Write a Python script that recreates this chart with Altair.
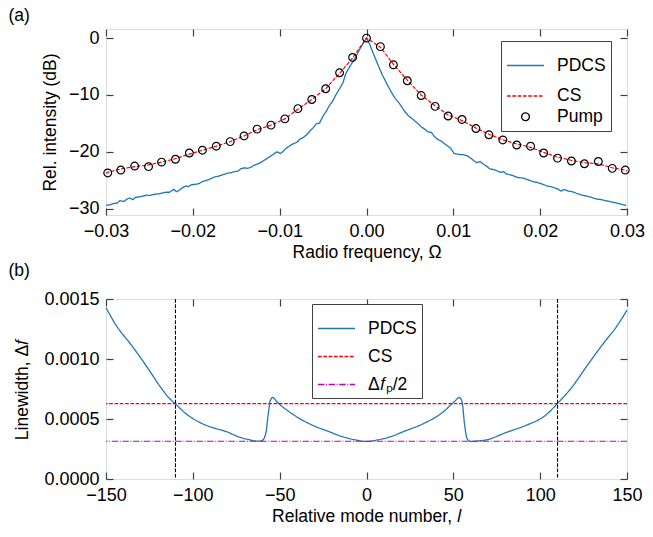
import altair as alt
import pandas as pd

# ---------------- Panel (a) data ----------------
pump_x = [-0.0298, -0.0283, -0.0267, -0.0251, -0.0236, -0.0220, -0.0204, -0.0189, -0.0173, -0.0157,
          -0.0141, -0.0126, -0.0110, -0.0094, -0.0079, -0.0063, -0.0047, -0.0031, -0.0016, 0.0,
          0.0016, 0.0031, 0.0047, 0.0063, 0.0079, 0.0094, 0.0110, 0.0126, 0.0141, 0.0157,
          0.0173, 0.0189, 0.0204, 0.0220, 0.0236, 0.0251, 0.0267, 0.0283, 0.0298]
pump_db = [-23.7, -23.2, -22.5, -22.6, -21.8, -21.3, -20.2, -19.7, -19.0, -18.2,
           -17.2, -16.0, -15.3, -14.2, -12.4, -10.8, -8.9, -6.1, -3.4, 0.0,
           -1.5, -4.7, -7.5, -10.1, -12.0, -13.7, -14.3, -15.9, -17.0, -17.9,
           -18.8, -19.0, -20.2, -21.1, -21.6, -22.1, -21.7, -22.9, -23.2]

cs_x = [-0.0300] + pump_x + [0.0300]
cs_db = [-23.8, -23.6, -23.0, -22.6, -22.3, -21.8, -21.2, -20.4, -19.7, -19.0, -18.2,
         -17.2, -16.1, -15.3, -14.2, -12.5, -10.8, -8.9, -6.2, -3.5, 0.0,
         -1.6, -4.6, -7.4, -10.0, -11.9, -13.5, -14.5, -15.8, -16.9, -17.9,
         -18.6, -19.2, -20.1, -20.9, -21.5, -21.9, -22.1, -22.8, -23.2, -23.4]

pdcs_a_x = [-0.0300, -0.0295, -0.0292, -0.0287, -0.0284, -0.0279, -0.0276, -0.0273, -0.0269, -0.0266,
            -0.0261, -0.0258, -0.0253, -0.0250, -0.0245, -0.0242, -0.0239, -0.0234, -0.0231, -0.0227,
            -0.0224, -0.0222, -0.0219, -0.0216, -0.0213, -0.0208, -0.0205, -0.0202, -0.0197, -0.0193,
            -0.0190, -0.0186, -0.0182, -0.0179, -0.0175, -0.0171, -0.0167, -0.0163, -0.0159, -0.0156,
            -0.0153, -0.0148, -0.0145, -0.0141, -0.0137, -0.0133, -0.0130, -0.0125, -0.0122, -0.0118,
            -0.0114, -0.0110, -0.0107, -0.0103, -0.0099, -0.0096, -0.0092, -0.0086, -0.0080, -0.0077,
            -0.0073, -0.0069, -0.0065, -0.0061, -0.0058, -0.0054, -0.0050, -0.0046, -0.0043, -0.0039,
            -0.0035, -0.0031, -0.0027, -0.0024, -0.0020, -0.0016, -0.0012, -0.0009, -0.0005, 0.0,
            0.0004, 0.0007, 0.0010, 0.0014, 0.0018, 0.0022, 0.0025, 0.0029, 0.0033, 0.0037,
            0.0041, 0.0044, 0.0048, 0.0052, 0.0056, 0.0059, 0.0063, 0.0067, 0.0071, 0.0075,
            0.0078, 0.0082, 0.0086, 0.0090, 0.0093, 0.0097, 0.0101, 0.0105, 0.0109, 0.0112,
            0.0116, 0.0120, 0.0124, 0.0127, 0.0131, 0.0135, 0.0139, 0.0142, 0.0146, 0.0150,
            0.0154, 0.0158, 0.0161, 0.0165, 0.0169, 0.0174, 0.0180, 0.0186, 0.0191, 0.0197,
            0.0203, 0.0208, 0.0214, 0.0220, 0.0224, 0.0228, 0.0232, 0.0237, 0.0242, 0.0248,
            0.0254, 0.0259, 0.0265, 0.0271, 0.0276, 0.0282, 0.0288, 0.0293, 0.0299]
pdcs_a_db = [-29.4, -29.3, -29.1, -29.0, -28.6, -28.7, -28.3, -28.1, -28.4, -28.0,
             -27.9, -27.8, -27.6, -27.7, -27.5, -27.4, -27.4, -27.2, -27.1, -27.1,
             -26.8, -26.6, -27.0, -26.8, -26.4, -26.0, -26.1, -25.8, -25.7, -25.6,
             -25.3, -25.1, -24.9, -24.7, -24.4, -24.3, -24.1, -23.9, -23.7, -23.7,
             -23.5, -23.4, -23.0, -22.8, -22.9, -22.7, -22.4, -22.1, -21.9, -21.5,
             -21.1, -20.7, -20.4, -20.0, -20.3, -19.9, -19.3, -18.7, -18.3, -17.8,
             -17.5, -17.0, -16.3, -15.7, -15.1, -14.9, -13.7, -12.8, -11.9, -11.1,
             -9.9, -8.9, -7.8, -6.3, -5.2, -4.2, -3.2, -2.3, -1.2, 0.0,
             -1.2, -2.4, -3.5, -5.0, -6.4, -7.6, -8.5, -9.6, -10.6, -11.3,
             -12.2, -12.9, -13.6, -14.1, -14.6, -15.0, -15.6, -16.0, -16.5, -16.6,
             -17.3, -17.8, -18.1, -18.6, -18.9, -19.4, -20.3, -20.4, -20.5, -20.5,
             -20.7, -21.1, -21.6, -21.9, -21.7, -22.2, -22.6, -23.0, -23.1, -23.3,
             -23.6, -23.5, -23.9, -24.0, -24.2, -24.5, -24.6, -24.9, -25.2, -25.4,
             -25.7, -26.0, -26.2, -26.5, -26.9, -26.6, -26.9, -27.0, -27.3, -27.6,
             -27.8, -28.0, -28.3, -28.4, -28.6, -28.8, -29.0, -29.2, -29.4]

xa_ticks = [-0.03, -0.02, -0.01, 0.0, 0.01, 0.02, 0.03]
ya_ticks = [0, -10, -20, -30]
series_a = ["PDCS", "CS", "Pump"]

# ---------------- Panel (b) data ----------------
pdcs_b_l = [-150, -144, -136, -128.5, -124.7, -119, -113.4, -110, -104, -96.5,
            -87, -80.5, -74, -68, -62.5, -60, -58, -56.5, -55.5, -54,
            -51.5, -44, -33, -21.5, -14, -6.5, 0, 6.5, 14, 21.5,
            33, 44, 50.5, 53.5, 55, 56.5, 58, 60, 62.5, 69,
            80.5, 92, 103, 110, 118, 128, 137, 144, 150]
pdcs_b_v = [0.001427, 0.001277, 0.001127, 0.000978, 0.000897, 0.000774, 0.000671, 0.000625, 0.000545, 0.000475,
            0.000421, 0.000394, 0.000353, 0.000329, 0.000315, 0.000322, 0.000380, 0.000550, 0.000650, 0.000679,
            0.000642, 0.000555, 0.000461, 0.000394, 0.000353, 0.000326, 0.000313, 0.000326, 0.000353, 0.000396,
            0.000463, 0.000557, 0.000644, 0.000679, 0.000645, 0.000450, 0.000334, 0.000313, 0.000315, 0.000326,
            0.000388, 0.000448, 0.000530, 0.000630, 0.000760, 0.000964, 0.001141, 0.001270, 0.001407]
cs_level = [0.000628]
half_level = [0.000314]
cross_l = [-110, 110]

xb_ticks = [-150, -100, -50, 0, 50, 100, 150]
yb_ticks = [0.0, 0.0005, 0.0010, 0.0015]
series_b = ["PDCS", "CS", "Δ𝑓ₚ/2"]

assert len(pump_x) == len(pump_db)
assert len(cs_x) == len(cs_db)
assert len(pdcs_a_x) == len(pdcs_a_db)
assert len(pdcs_b_l) == len(pdcs_b_v)

# ---------------- style ----------------
FONT = "Liberation Sans"
FRAME = "#404040"
LFS = 18      # tick labels
TFS = 17.5    # titles / legend
W = 521
HA = 186
HB = 180
BLUE = "#1f77b4"
RED = "#ff0000"
MAG = "#bf00bf"
SOLID = [1, 0]
DASH = [3.7, 1.6]
DASHDOT = [6.4, 1.6, 1, 1.6]
TICK = 7
LINE_SYM = 1369  # legend line length 37 px
PUMP_SIZE = 60


def main_axis(values, fmt, title, orient, title_pad, label_pad=7):
    return alt.Axis(values=values, format=fmt, title=title, orient=orient,
                    tickSize=TICK, offset=-TICK, domain=False, grid=False,
                    tickColor=FRAME, tickWidth=1.2, labelPadding=label_pad, labelFlush=False,
                    labelFont=FONT, labelFontSize=LFS, labelColor="black",
                    titleFont=FONT, titleFontSize=TFS, titleFontWeight="normal",
                    titleColor="black", titlePadding=title_pad)


def mirror_axis(values, orient):
    return alt.Axis(values=values, orient=orient, labels=False, title=None,
                    tickSize=TICK, offset=-TICK, domain=False, grid=False,
                    tickColor=FRAME, tickWidth=1.2, minExtent=0, maxExtent=0)


def legend(x, y, row_pad, pad):
    return alt.Legend(
        title=None, orient="none", legendX=x, legendY=y, direction="vertical",
        symbolType="stroke", symbolSize=LINE_SYM, symbolStrokeWidth=1.3,
        symbolFillColor="transparent",
        labelFont=FONT, labelFontSize=TFS, labelColor="black", labelOffset=12,
        rowPadding=row_pad, padding=pad, strokeColor=FRAME, fillColor="white", cornerRadius=0,
    )


def panel_title(text, offset):
    return alt.TitleParams(text, anchor="start", frame="group", dx=-97.5, offset=offset,
                           font=FONT, fontSize=TFS, fontWeight="normal", color="black")


# ---------------- Panel (a) ----------------
dfa_pdcs = pd.DataFrame({"x": pdcs_a_x, "y": pdcs_a_db, "sa": "PDCS"})
dfa_cs = pd.DataFrame({"x": cs_x, "y": cs_db, "sa": "CS"})
dfa_pump = pd.DataFrame({"x": pump_x, "y": pump_db, "sa": "Pump"})

xa_scale = alt.Scale(domain=[-0.03, 0.03], nice=False, zero=False)
ya_scale = alt.Scale(domain=[-31.1, 1.6], nice=False, zero=False)
xa_axis = main_axis(xa_ticks, ".2f", "Radio frequency, Ω", "bottom", 3)
ya_axis = main_axis(ya_ticks, "d", "Rel. intensity (dB)", "left", 9)

LA = legend(395, 12, 2.5, 5)
color_a = alt.Color("sa:N", scale=alt.Scale(domain=series_a, range=[BLUE, RED, "black"]), legend=LA)
dash_a = alt.StrokeDash("sa:N", scale=alt.Scale(domain=series_a, range=[SOLID, DASH, SOLID]), legend=LA)
shape_a = alt.Shape("sa:N", scale=alt.Scale(domain=series_a, range=["stroke", "stroke", "circle"]), legend=LA)
size_a = alt.Size("sa:N", scale=alt.Scale(type="ordinal", domain=series_a,
                                          range=[LINE_SYM, LINE_SYM, PUMP_SIZE]), legend=LA)

xa = alt.X("x:Q", scale=xa_scale, axis=xa_axis)
ya = alt.Y("y:Q", scale=ya_scale, axis=ya_axis)

pdcs_a = alt.Chart(dfa_pdcs).mark_line(strokeWidth=1.3).encode(x=xa, y=ya, color=color_a, strokeDash=dash_a)
cs_a = alt.Chart(dfa_cs).mark_line(strokeWidth=1.2).encode(x=xa, y=ya, color=color_a, strokeDash=dash_a)
pump_a = alt.Chart(dfa_pump).mark_point(filled=False, strokeWidth=1.2, opacity=1).encode(
    x=xa, y=ya, color=color_a, shape=shape_a, size=size_a)
mirror_a = alt.Chart(dfa_pump).mark_point(opacity=0).encode(
    x=alt.X("x:Q", scale=xa_scale, axis=mirror_axis(xa_ticks, "top")),
    y=alt.Y("y:Q", scale=ya_scale, axis=mirror_axis(ya_ticks, "right")),
)

panel_a = alt.layer(alt.layer(pdcs_a, cs_a, pump_a), mirror_a).resolve_scale(
    x="independent", y="independent"
).properties(width=W, height=HA, title=panel_title("(a)", 4))

# ---------------- Panel (b) ----------------
dfb_pdcs = pd.DataFrame({"l": pdcs_b_l, "v": pdcs_b_v, "sb": "PDCS"})
dfb_cs = pd.DataFrame({"v": cs_level, "sb": series_b[1]})
dfb_half = pd.DataFrame({"v": half_level, "sb": series_b[2]})
dfb_cross = pd.DataFrame({"l": cross_l})

xb_scale = alt.Scale(domain=[-150, 150], nice=False, zero=False)
yb_scale = alt.Scale(domain=[0, 0.0015], nice=False, zero=False)
xb_axis = main_axis(xb_ticks, "d", "Relative mode number, 𝑙", "bottom", 3, label_pad=7)
yb_axis = main_axis(yb_ticks, ".4f", "Linewidth, Δ𝑓", "left", 12)

LB = legend(206, 5, -4.5, 5)
color_b = alt.Color("sb:N", scale=alt.Scale(domain=series_b, range=[BLUE, RED, MAG]), legend=LB)
dash_b = alt.StrokeDash("sb:N", scale=alt.Scale(domain=series_b, range=[SOLID, DASH, DASHDOT]), legend=LB)

xb = alt.X("l:Q", scale=xb_scale, axis=xb_axis)
yb = alt.Y("v:Q", scale=yb_scale, axis=yb_axis)

pdcs_b = alt.Chart(dfb_pdcs).mark_line(strokeWidth=1.3, interpolate="monotone").encode(
    x=xb, y=yb, color=color_b, strokeDash=dash_b)
cs_b = alt.Chart(dfb_cs).mark_rule(strokeWidth=1.1).encode(y=yb, color=color_b, strokeDash=dash_b)
half_b = alt.Chart(dfb_half).mark_rule(strokeWidth=1.1).encode(y=yb, color=color_b, strokeDash=dash_b)
cross_b = alt.Chart(dfb_cross).mark_rule(strokeWidth=1.1, strokeDash=DASH, color="black").encode(x=xb)
mirror_b = alt.Chart(dfb_pdcs).mark_point(opacity=0).encode(
    x=alt.X("l:Q", scale=xb_scale, axis=mirror_axis(xb_ticks, "top")),
    y=alt.Y("v:Q", scale=yb_scale, axis=mirror_axis(yb_ticks, "right")),
)

panel_b = alt.layer(alt.layer(pdcs_b, cs_b, half_b, cross_b), mirror_b).resolve_scale(
    x="independent", y="independent"
).properties(width=W, height=HB, title=panel_title("(b)", 11))

chart = alt.vconcat(panel_a, panel_b, spacing=0).resolve_scale(
    color="independent", strokeDash="independent", shape="independent", size="independent"
).resolve_legend(
    color="independent", strokeDash="independent", shape="independent", size="independent"
).configure_view(
    stroke=FRAME, strokeWidth=1.4
).configure(font=FONT).properties(padding={"left": 0, "top": -2, "right": -1, "bottom": 0})

chart.save("out.html", embed_options={"renderer": "svg", "actions": False})
